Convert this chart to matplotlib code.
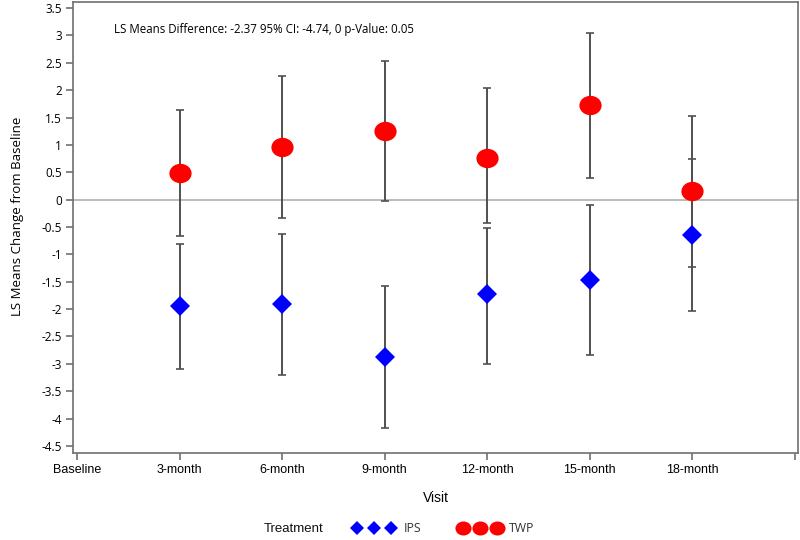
import matplotlib
matplotlib.use("Agg")
import matplotlib.pyplot as plt
import numpy as np
from matplotlib.path import Path
from matplotlib.lines import Line2D
from matplotlib.transforms import Affine2D

# ---- data ----
visits = ["Baseline", "3-month", "6-month", "9-month", "12-month", "15-month", "18-month", ""]
x_pos = [1, 2, 3, 4, 5, 6]

twp_mean = [0.49, 0.97, 1.26, 0.76, 1.72, 0.15]
twp_low = [-0.66, -0.33, -0.03, -0.42, 0.39, -1.23]
twp_high = [1.64, 2.26, 2.54, 2.04, 3.05, 1.53]

ips_mean = [-1.95, -1.91, -2.88, -1.72, -1.47, -0.64]
ips_low = [-3.09, -3.20, -4.18, -3.01, -2.84, -2.03]
ips_high = [-0.81, -0.62, -1.58, -0.52, -0.10, 0.75]

yticks = [3.5, 3, 2.5, 2, 1.5, 1, 0.5, 0, -0.5, -1, -1.5, -2, -2.5, -3, -3.5, -4, -4.5]
ytick_labels = ["3.5", "3", "2.5", "2", "1.5", "1", "0.5", "0", "-0.5", "-1", "-1.5",
                "-2", "-2.5", "-3", "-3.5", "-4", "-4.5"]

annotation = "LS Means Difference: -2.37 95% CI: -4.74, 0 p-Value: 0.05"

# ---- figure ----
fig = plt.figure(figsize=(8, 5.4), dpi=100)
ax = fig.add_axes([73/800, 1 - 453/540, (798 - 73)/800, (453 - 1.5)/540])

ellipse = Path(Affine2D().scale(1, 0.87).transform(Path.unit_circle().vertices),
               Path.unit_circle().codes)

err_color = "#505050"
ax.axhline(0, color="#a8a8a8", lw=1.1, zorder=1)

twp_err = [np.array(twp_mean) - np.array(twp_low), np.array(twp_high) - np.array(twp_mean)]
ips_err = [np.array(ips_mean) - np.array(ips_low), np.array(ips_high) - np.array(ips_mean)]

ax.errorbar(x_pos, twp_mean, yerr=twp_err, fmt="none", ecolor=err_color,
            elinewidth=1.4, capsize=2.6, capthick=1.2, zorder=2)
ax.errorbar(x_pos, ips_mean, yerr=ips_err, fmt="none", ecolor=err_color,
            elinewidth=1.4, capsize=2.6, capthick=1.2, zorder=2)
ax.plot(x_pos, twp_mean, linestyle="none", marker=ellipse, markersize=16,
        color="#ff0000", markeredgewidth=0, zorder=4)
ax.plot(x_pos, ips_mean, linestyle="none", marker="D", markersize=10,
        color="#0000ff", markeredgewidth=0, zorder=4)

ax.set_xlim(-0.04, 7.03)
ax.set_ylim(-4.63, 3.62)
ax.set_xticks(range(len(visits)))
ax.set_xticklabels(visits, family=["Liberation Sans Narrow", "Liberation Sans"],
                   fontsize=9, stretch="condensed")
ax.set_yticks(yticks)
ax.set_yticklabels(ytick_labels, family="Open Sans", fontsize=8.5)
ax.tick_params(axis="both", color="#707070", length=5, width=1.2)
ax.tick_params(axis="x", pad=3)
ax.tick_params(axis="y", pad=3)
for s in ax.spines.values():
    s.set_color("#707070")
    s.set_linewidth(1.2)

ax.set_ylabel("LS Means Change from Baseline", family="Open Sans", fontsize=9.5)
ax.yaxis.set_label_coords(-0.068, 0.525)
ax.set_xlabel("Visit", family="Liberation Sans", fontsize=10, labelpad=11)

fig.text(114/800, 1 - 30/540, annotation, family="Open Sans", fontsize=8.3,
         ha="left", va="center")

# legend
fig.text(323/800, 1 - 529/540, "Treatment", family="Liberation Sans", fontsize=9.5,
         ha="right", va="center", color="#111111", fontweight="medium")
h_ips = Line2D([], [], linestyle="none", marker="D", markersize=7.2, color="#0000ff",
               markeredgewidth=0)
h_twp = Line2D([], [], linestyle="none", marker=ellipse, markersize=11.6, color="#ff0000",
               markeredgewidth=0)
leg = fig.legend([h_ips, h_twp], ["IPS", "TWP"], loc="center left",
                 bbox_to_anchor=(353.5/800, 1 - 529/540), ncol=2, numpoints=3,
                 frameon=False, borderpad=0, borderaxespad=0, handlelength=3.4,
                 handletextpad=0.7, columnspacing=3.1,
                 prop={"family": "Open Sans", "size": 8.8})
for t in leg.get_texts():
    t.set_color("#333333")

fig.savefig("out.png", dpi=100)
